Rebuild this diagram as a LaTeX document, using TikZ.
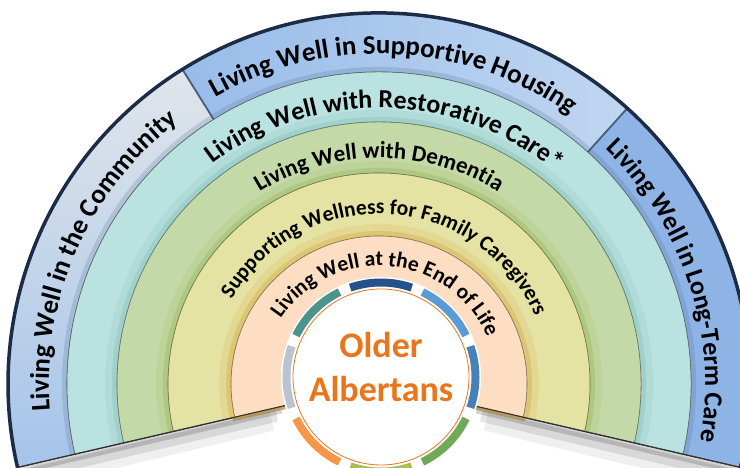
\documentclass[tikz,border=0pt]{standalone}
\usepackage{fontspec}
\setmainfont{Carlito}
\usetikzlibrary{decorations.text,calc}

\definecolor{rimnavy}{RGB}{28,44,70}
\definecolor{edgegray}{RGB}{95,100,90}
\definecolor{dividerblue}{RGB}{70,95,125}
\definecolor{housingblue}{RGB}{152,188,233}
\definecolor{housinglight}{RGB}{192,214,241}
\definecolor{communitygray}{RGB}{224,229,234}
\definecolor{communityblue}{RGB}{165,196,234}
\definecolor{ltcblue}{RGB}{142,180,229}
\definecolor{restorecyan}{RGB}{186,226,225}
\definecolor{dementiagreen}{RGB}{196,217,168}
\definecolor{caregiveryellow}{RGB}{229,227,163}
\definecolor{endpeach}{RGB}{253,222,194}
\definecolor{olderorange}{RGB}{234,118,28}
\definecolor{glowblue}{RGB}{80,110,150}
\definecolor{glowcyan}{RGB}{120,185,170}
\definecolor{glowgreen}{RGB}{150,180,80}
\definecolor{glowyellow}{RGB}{215,170,70}
\definecolor{segnavy}{RGB}{38,82,140}
\definecolor{segsky}{RGB}{91,155,213}
\definecolor{segsteel}{RGB}{70,130,185}
\definecolor{seggreen}{RGB}{112,170,88}
\definecolor{segolive}{RGB}{172,190,82}
\definecolor{segorange}{RGB}{246,150,72}
\definecolor{seggray}{RGB}{186,195,208}
\definecolor{segteal}{RGB}{75,148,142}

\newcommand\outerlabel{\bfseries\fontsize{27bp}{27bp}\selectfont}
\newcommand\restorelabel{\bfseries\fontsize{26bp}{26bp}\selectfont}
\newcommand\dementialabel{\bfseries\fontsize{23bp}{23bp}\selectfont}
\newcommand\innerlabel{\bfseries\fontsize{21.5bp}{21.5bp}\selectfont}

\tikzset{
  bandlabel/.style 2 args={postaction={decorate},
    decoration={text along path,text align=center,text={|#1|#2}}},
  bandedge/.style={draw=edgegray,line width=0.6bp},
}

\begin{document}
\begin{tikzpicture}

\useasboundingbox (0bp,0bp) rectangle (740bp,468bp);
\clip (0bp,0bp) rectangle (740bp,468bp);
\coordinate (C) at (379bp,84bp);
\coordinate (O) at (381bp,91bp);

\draw [line width=20bp,black,opacity=0.06] ($(C)+(193:110bp)+(0,-12bp)$) -- ($(C)+(193:371bp)+(0,-14bp)$);
\draw [line width=12bp,black,opacity=0.10] ($(C)+(193:105bp)+(0,-8bp)$) -- ($(C)+(193:371bp)+(0,-9bp)$);
\draw [line width=6bp,black,opacity=0.16] ($(C)+(193:100bp)+(0,-4bp)$) -- ($(C)+(193:371bp)+(0,-4bp)$);
\draw [line width=20bp,black,opacity=0.06] ($(C)+(-13:110bp)+(0,-12bp)$) -- ($(C)+(-13:371bp)+(0,-14bp)$);
\draw [line width=12bp,black,opacity=0.10] ($(C)+(-13:105bp)+(0,-8bp)$) -- ($(C)+(-13:371bp)+(0,-9bp)$);
\draw [line width=6bp,black,opacity=0.16] ($(C)+(-13:100bp)+(0,-4bp)$) -- ($(C)+(-13:371bp)+(0,-4bp)$);

\shadedraw [top color=communitygray,middle color=communityblue,bottom color=communityblue,bandedge] ($(C)+(122:371bp)$) arc[start angle=122,end angle=193,radius=371bp] -- ($(C)+(193:312bp)$) arc[start angle=193,end angle=122,radius=312bp] -- cycle;
\shadedraw [left color=housingblue,right color=housinglight,bandedge] ($(C)+(48:371bp)$) arc[start angle=48,end angle=122,radius=371bp] -- ($(C)+(122:312bp)$) arc[start angle=122,end angle=48,radius=312bp] -- cycle;
\filldraw [fill=ltcblue,bandedge] ($(C)+(-13:371bp)$) arc[start angle=-13,end angle=48,radius=371bp] -- ($(C)+(48:312bp)$) arc[start angle=48,end angle=-13,radius=312bp] -- cycle;
\filldraw [fill=restorecyan,bandedge] ($(C)+(-13:312bp)$) arc[start angle=-13,end angle=193,radius=312bp] -- ($(C)+(193:262bp)$) arc[start angle=193,end angle=-13,radius=262bp] -- cycle;
\filldraw [fill=dementiagreen,bandedge] ($(C)+(-13:262bp)$) arc[start angle=-13,end angle=193,radius=262bp] -- ($(C)+(193:211bp)$) arc[start angle=193,end angle=-13,radius=211bp] -- cycle;
\filldraw [fill=caregiveryellow,bandedge] ($(C)+(-13:211bp)$) arc[start angle=-13,end angle=193,radius=211bp] -- ($(C)+(193:148bp)$) arc[start angle=193,end angle=-13,radius=148bp] -- cycle;
\filldraw [fill=endpeach,bandedge] ($(C)+(-13:148bp)$) arc[start angle=-13,end angle=193,radius=148bp] -- ($(C)+(193:90bp)$) arc[start angle=193,end angle=-13,radius=90bp] -- cycle;

\draw [glowblue,opacity=0.22,line width=5bp] ($(C)+(-13:314.5bp)$) arc[start angle=-13,end angle=193,radius=314.5bp];
\draw [glowcyan,opacity=0.30,line width=5bp] ($(C)+(-13:264.5bp)$) arc[start angle=-13,end angle=193,radius=264.5bp];
\draw [glowcyan,opacity=0.15,line width=12bp] ($(C)+(-13:268bp)$) arc[start angle=-13,end angle=193,radius=268bp];
\draw [glowgreen,opacity=0.35,line width=5bp] ($(C)+(-13:213.5bp)$) arc[start angle=-13,end angle=193,radius=213.5bp];
\draw [glowgreen,opacity=0.15,line width=12bp] ($(C)+(-13:217bp)$) arc[start angle=-13,end angle=193,radius=217bp];
\draw [glowyellow,opacity=0.40,line width=5bp] ($(C)+(-13:150.5bp)$) arc[start angle=-13,end angle=193,radius=150.5bp];
\draw [glowyellow,opacity=0.18,line width=12bp] ($(C)+(-13:154bp)$) arc[start angle=-13,end angle=193,radius=154bp];

\draw [line width=1.8bp,dividerblue] ($(C)+(122:312bp)$) -- ($(C)+(122:371bp)$);
\draw [line width=1.8bp,dividerblue] ($(C)+(48:312bp)$) -- ($(C)+(48:371bp)$);
\draw [line width=3.5bp,rimnavy] ($(C)+(-13:371bp)$) arc[start angle=-13,end angle=193,radius=371bp];
\draw [line width=1.4bp,black!80] ($(C)+(193:92bp)$) -- ($(C)+(193:372bp)$);
\draw [line width=1.4bp,black!80] ($(C)+(-13:92bp)$) -- ($(C)+(-13:372bp)$);
\draw [line width=3bp,glowyellow!80!black,opacity=0.7] ($(C)+(193:96bp)+(0,-2bp)$) -- ($(C)+(193:150bp)+(0,-2bp)$);
\draw [line width=3bp,glowyellow!80!black,opacity=0.7] ($(C)+(-13:96bp)+(0,-2bp)$) -- ($(C)+(-13:150bp)+(0,-2bp)$);

\path [bandlabel={\outerlabel}{Living Well in Supportive Housing}] ($(C)+(177.2:330bp)$) arc[start angle=177.2,end angle=-2.8,radius=330bp];
\path [bandlabel={\outerlabel}{Living Well in the Community}] ($(C)+(246:330bp)$) arc[start angle=246,end angle=66,radius=330bp];
\path [bandlabel={\restorelabel}{Living Well in Long-Term Care}] ($(C)+(108:326bp)$) arc[start angle=108,end angle=-72,radius=326bp];
\path [bandlabel={\restorelabel}{Living Well with Restorative Care*}] ($(C)+(178.7:276bp)$) arc[start angle=178.7,end angle=-1.3,radius=276bp];
\path [bandlabel={\dementialabel}{Living Well with Dementia}] ($(C)+(180:226bp)$) arc[start angle=180,end angle=0,radius=226bp];
\path [bandlabel={\innerlabel}{Supporting Wellness for Family Caregivers}] ($(C)+(176.7:170bp)$) arc[start angle=176.7,end angle=-3.3,radius=170bp];
\path [bandlabel={\innerlabel}{Living Well at the End of Life}] ($(C)+(174.9:118bp)$) arc[start angle=174.9,end angle=-5.1,radius=118bp];

\fill [white] (O) circle[radius=100bp];
\draw [line width=8bp,segnavy] ($(O)+(109:94.5bp)$) arc[start angle=109,end angle=71,radius=94.5bp];
\draw [line width=8bp,segsky] ($(O)+(64:94.5bp)$) arc[start angle=64,end angle=26,radius=94.5bp];
\draw [line width=8bp,segsteel] ($(O)+(19:94.5bp)$) arc[start angle=19,end angle=-19,radius=94.5bp];
\draw [line width=8bp,seggreen] ($(O)+(-26:94.5bp)$) arc[start angle=-26,end angle=-64,radius=94.5bp];
\draw [line width=8bp,segolive] ($(O)+(-71:94.5bp)$) arc[start angle=-71,end angle=-109,radius=94.5bp];
\draw [line width=8bp,segorange] ($(O)+(-116:94.5bp)$) arc[start angle=-116,end angle=-154,radius=94.5bp];
\draw [line width=8bp,seggray] ($(O)+(-161:94.5bp)$) arc[start angle=-161,end angle=-199,radius=94.5bp];
\draw [line width=8bp,segteal] ($(O)+(154:94.5bp)$) arc[start angle=154,end angle=116,radius=94.5bp];
\filldraw [fill=white,draw=olderorange,line width=0.8bp] (O) circle[radius=88bp];

\node (Older) at (381bp,110bp)[anchor=base,text=olderorange,font=\bfseries\fontsize{36bp}{36bp}\selectfont] {Older};
\node (Albertans) at (381bp,66bp)[anchor=base,text=olderorange,font=\bfseries\fontsize{36bp}{36bp}\selectfont] {Albertans};

\end{tikzpicture}
\end{document}
